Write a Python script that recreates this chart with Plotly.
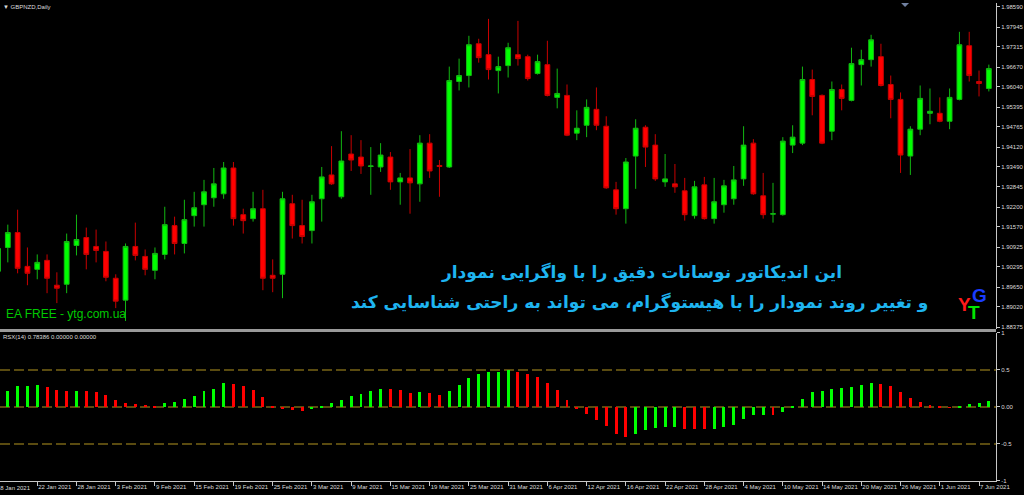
import plotly.graph_objects as go
import pandas as pd

# ---------------- data ----------------
dates = pd.bdate_range("2021-01-18", "2021-06-08")
idx = list(range(len(dates)))

open_ = [1.90153, 1.90914, 1.91390, 1.90311, 1.90216, 1.90502, 1.89709, 1.89740, 1.90977, 1.91231,
         1.90946, 1.90787, 1.89931, 1.89233, 1.90946, 1.90628, 1.90184, 1.90692, 1.91612, 1.91041,
         1.91929, 1.92278, 1.92500, 1.92627, 1.93451, 1.91961, 1.91834, 1.92151, 1.90026, 1.90057,
         1.92310, 1.91612, 1.91453, 1.92468, 1.93229, 1.92532, 1.93896, 1.93800, 1.93499, 1.93483,
         1.93800, 1.93007, 1.93134, 1.92944, 1.94244, 1.93531, 1.93483, 1.96211, 1.96401, 1.97416,
         1.97068, 1.96560, 1.96719, 1.97068, 1.97004, 1.96465, 1.96750, 1.95704, 1.95767, 1.94562,
         1.94815, 1.95323, 1.94784, 1.92754, 1.92151, 1.93832, 1.94752, 1.94181, 1.93007, 1.92944,
         1.92722, 1.91929, 1.92912, 1.91834, 1.92278, 1.92468, 1.93103, 1.94244, 1.92563, 1.91977,
         1.91961, 1.94181, 1.94244, 1.96275, 1.95767, 1.94625, 1.95957, 1.95608, 1.96750, 1.96909,
         1.97004, 1.96116, 1.95640, 1.93832, 1.94689, 1.95196, 1.95196, 1.94942, 1.95640, 1.97353,
         1.96211, 1.95989]
high = [1.91104, 1.91643, 1.92119, 1.90914, 1.90692, 1.90692, 1.90121, 1.91358, 1.91961, 1.91548,
        1.91485, 1.91104, 1.90057, 1.91041, 1.91707, 1.90850, 1.90914, 1.92214, 1.91897, 1.92436,
        1.92690, 1.93071, 1.93451, 1.93642, 1.93642, 1.92151, 1.92690, 1.92754, 1.90533, 1.92690,
        1.92595, 1.92436, 1.92595, 1.93483, 1.94149, 1.94625, 1.94498, 1.94340, 1.94118, 1.94244,
        1.93959, 1.93293, 1.94054, 1.94498, 1.94530, 1.93705, 1.96687, 1.96941, 1.97670, 1.97575,
        1.98210, 1.97004, 1.97448, 1.98146, 1.97068, 1.97068, 1.97512, 1.96623, 1.96116, 1.95291,
        1.95640, 1.96021, 1.95101, 1.93007, 1.93769, 1.95006, 1.94815, 1.94530, 1.93896, 1.93578,
        1.93134, 1.93039, 1.93166, 1.93134, 1.93071, 1.93515, 1.94784, 1.94371, 1.93293, 1.92976,
        1.94435, 1.94815, 1.96687, 1.96592, 1.95799, 1.96211, 1.96116, 1.97290, 1.97226, 1.97702,
        1.97416, 1.96401, 1.95862, 1.94784, 1.96084, 1.95989, 1.95704, 1.95989, 1.97797, 1.97797,
        1.96560, 1.96750]
low = [1.89962, 1.90438, 1.90089, 1.89709, 1.89899, 1.89455, 1.89138, 1.89455, 1.90660, 1.90216,
       1.90438, 1.89835, 1.88979, 1.88567, 1.90502, 1.90026, 1.89899, 1.90533, 1.90692, 1.90724,
       1.91580, 1.91580, 1.92214, 1.92468, 1.91612, 1.91358, 1.91739, 1.89550, 1.89486, 1.89296,
       1.91199, 1.91041, 1.91041, 1.91739, 1.92912, 1.92468, 1.93356, 1.93261, 1.92595, 1.93325,
       1.92754, 1.92278, 1.91992, 1.92373, 1.93134, 1.92532, 1.93451, 1.95926, 1.96021, 1.96814,
       1.96275, 1.95830, 1.96338, 1.96719, 1.96243, 1.96433, 1.95735, 1.95355, 1.94467, 1.94340,
       1.94435, 1.94657, 1.92785, 1.91961, 1.91675, 1.92785, 1.93483, 1.93039, 1.92849, 1.92659,
       1.91770, 1.91834, 1.91802, 1.91675, 1.92024, 1.92278, 1.92881, 1.92595, 1.91834, 1.91707,
       1.91929, 1.93927, 1.94181, 1.95133, 1.94213, 1.94340, 1.95291, 1.95577, 1.96084, 1.96687,
       1.96053, 1.95037, 1.93293, 1.93229, 1.94498, 1.94847, 1.94911, 1.94689, 1.95608, 1.96211,
       1.95735, 1.95894]
close = [1.90882, 1.91390, 1.90248, 1.90089, 1.90438, 1.89931, 1.89613, 1.91104, 1.91168, 1.90692,
         1.90819, 1.89962, 1.89201, 1.90946, 1.90660, 1.90216, 1.90724, 1.91643, 1.91041, 1.91802,
         1.92183, 1.92690, 1.92944, 1.93451, 1.91834, 1.91770, 1.92151, 1.89931, 1.89931, 1.92468,
         1.91612, 1.91263, 1.92373, 1.93166, 1.92944, 1.93674, 1.93705, 1.93515, 1.93515, 1.93864,
         1.93007, 1.93134, 1.92976, 1.94244, 1.93356, 1.93499, 1.96243, 1.96401, 1.97385, 1.96972,
         1.96592, 1.96687, 1.97290, 1.96941, 1.96306, 1.96846, 1.95767, 1.95830, 1.94498, 1.94720,
         1.95386, 1.94815, 1.92817, 1.92151, 1.93642, 1.94720, 1.94118, 1.93103, 1.93103, 1.92849,
         1.91961, 1.92849, 1.91834, 1.92373, 1.92881, 1.93071, 1.94181, 1.92627, 1.91961, 1.91992,
         1.94308, 1.94435, 1.96275, 1.95735, 1.94244, 1.95957, 1.95672, 1.96782, 1.96909, 1.97543,
         1.96084, 1.95640, 1.93864, 1.94689, 1.95672, 1.95260, 1.94942, 1.95704, 1.97385, 1.96401,
         1.96148, 1.96623]

rsx = [0.17, 0.22, 0.28, 0.29, 0.295, 0.27, 0.225, 0.21, 0.22, 0.21,
       0.20, 0.16, 0.10, 0.06, 0.045, 0.03, 0.02, 0.05, 0.07, 0.11,
       0.15, 0.21, 0.25, 0.32, 0.31, 0.28, 0.23, 0.13, 0.02, -0.02,
       -0.04, -0.05, -0.03, 0.02, 0.05, 0.10, 0.15, 0.18, 0.21, 0.25,
       0.245, 0.23, 0.195, 0.205, 0.19, 0.16, 0.22, 0.30, 0.39, 0.45,
       0.47, 0.48, 0.495, 0.48, 0.44, 0.40, 0.32, 0.23, 0.10, -0.026,
       -0.10, -0.17, -0.26, -0.36, -0.40, -0.36, -0.31, -0.285, -0.276, -0.27,
       -0.294, -0.296, -0.303, -0.294, -0.267, -0.237, -0.167, -0.114, -0.105, -0.114,
       -0.07, 0.018, 0.11, 0.20, 0.22, 0.25, 0.255, 0.276, 0.30, 0.325,
       0.316, 0.285, 0.206, 0.12, 0.07, 0.026, 0.008, -0.01, 0.018, 0.04,
       0.055, 0.08]

price_ticks = [1.98590, 1.97945, 1.97315, 1.96670, 1.96040, 1.95395, 1.94765, 1.94120, 1.93490,
               1.92845, 1.92200, 1.91570, 1.90925, 1.90295, 1.89650, 1.89020, 1.88375]
rsx_ticks = [1, 0.5, 0, -0.5, -1]
rsx_tick_text = ["1", "0.5", "0.00", "-0.5", "-1"]
date_tick_idx = list(range(0, len(dates), 4))
date_tick_text = ["18 Jan 2021", "22 Jan 2021", "28 Jan 2021", "3 Feb 2021", "9 Feb 2021",
                  "15 Feb 2021", "19 Feb 2021", "25 Feb 2021", "3 Mar 2021", "9 Mar 2021",
                  "15 Mar 2021", "19 Mar 2021", "25 Mar 2021", "31 Mar 2021", "6 Apr 2021",
                  "12 Apr 2021", "16 Apr 2021", "22 Apr 2021", "28 Apr 2021", "4 May 2021",
                  "10 May 2021", "14 May 2021", "20 May 2021", "26 May 2021", "1 Jun 2021",
                  "7 Jun 2021"]
levels = [0.5, 0.0, -0.5]

# ---------------- styling ----------------
W, H = 1024, 495
ML, MR, MT, MB = 0, 27, 0, 14
PW, PH = W - ML - MR, H - MT - MB
XR = [0.204, 101.73]
TXT = "#dcdcdc"
FONT = "Liberation Sans, Arial, sans-serif"

def py(px):  # pixel row -> paper y
    return 1 - (px - MT) / PH

def pxx(px):  # pixel col -> paper x
    return (px - ML) / PW

bar_colors = ["#00ff00"] + ["#00ff00" if rsx[i] > rsx[i - 1] else "#ff0000" for i in range(1, len(rsx))]

fig = go.Figure()
fig.add_trace(go.Candlestick(
    x=idx, open=open_, high=high, low=low, close=close,
    increasing=dict(line=dict(color="#12b812", width=1), fillcolor="#00ff00"),
    decreasing=dict(line=dict(color="#c80000", width=1), fillcolor="#ff0000"),
    whiskerwidth=0, xaxis="x", yaxis="y", hoverinfo="skip", showlegend=False))
fig.add_trace(go.Bar(
    x=idx, y=rsx, width=0.3, marker=dict(color=bar_colors, line=dict(width=0)),
    xaxis="x2", yaxis="y2", hoverinfo="skip", showlegend=False))

shapes = []
for lv in levels:
    shapes.append(dict(type="line", xref="paper", x0=0, x1=1, yref="y2", y0=lv, y1=lv,
                       line=dict(color="#786416", width=1.5, dash="10px,4px"), layer="below"))
# panel separator
shapes.append(dict(type="rect", xref="paper", x0=0, x1=1, yref="paper", y0=py(331), y1=py(328),
                   fillcolor="#9a9a9a", line=dict(width=0), layer="above"))
# small shift marker at top
shapes.append(dict(type="path", xref="paper", yref="paper",
                   path=f"M {pxx(902)},{py(0)} L {pxx(910)},{py(0)} L {pxx(906)},{py(4)} Z",
                   fillcolor="#7080a0", line=dict(width=0)))

annotations = [
    dict(text="▼ GBPNZD,Daily", xref="paper", yref="paper", x=pxx(1), y=py(4),
         xanchor="left", yanchor="middle", showarrow=False, font=dict(family=FONT, size=6, color=TXT)),
    dict(text="RSX(14) 0.78386 0.00000 0.00000", xref="paper", yref="paper", x=pxx(1), y=py(336),
         xanchor="left", yanchor="middle", showarrow=False, font=dict(family=FONT, size=6, color=TXT)),
    dict(text="EA FREE - ytg.com.ua", xref="paper", yref="paper", x=pxx(4), y=py(313),
         xanchor="left", yanchor="middle", showarrow=False, font=dict(family=FONT, size=12, color="#00c800")),
    dict(text="<b>این اندیکاتور نوسانات دقیق را با واگرایی نمودار</b>", xref="paper", yref="paper",
         x=pxx(642), y=py(271), xanchor="center", yanchor="middle", showarrow=False,
         font=dict(family="DejaVu Sans, sans-serif", size=17, color="#1eb4f0")),
    dict(text="<b>و تغییر روند نمودار را با هیستوگرام، می تواند به راحتی شناسایی کند</b>", xref="paper", yref="paper",
         x=pxx(640), y=py(301), xanchor="center", yanchor="middle", showarrow=False,
         font=dict(family="DejaVu Sans, sans-serif", size=17, color="#1eb4f0")),
    dict(text="<b>Y</b>", xref="paper", yref="paper", x=pxx(965), y=py(303), xanchor="center",
         yanchor="middle", showarrow=False, font=dict(family=FONT, size=19, color="#ff1a1a")),
    dict(text="<b>G</b>", xref="paper", yref="paper", x=pxx(980), y=py(294), xanchor="center",
         yanchor="middle", showarrow=False, font=dict(family=FONT, size=19, color="#1a3cff")),
    dict(text="<b>T</b>", xref="paper", yref="paper", x=pxx(975), y=py(311), xanchor="center",
         yanchor="middle", showarrow=False, font=dict(family=FONT, size=19, color="#00e600")),
    dict(text=date_tick_text[0], xref="paper", yref="paper", x=pxx(-5), y=-7 / PH,
         xanchor="left", yanchor="middle", showarrow=False, font=dict(family=FONT, size=6, color=TXT)),
]

fig.update_layout(
    width=W, height=H, margin=dict(l=ML, r=MR, t=MT, b=MB),
    paper_bgcolor="black", plot_bgcolor="black", showlegend=False, hovermode=False,
    bargap=0,
    xaxis=dict(domain=[0, 1], anchor="y", range=XR, showticklabels=False, showgrid=False,
               zeroline=False, rangeslider=dict(visible=False), ticks=""),
    xaxis2=dict(domain=[0, 1], anchor="y2", range=XR, matches="x", showgrid=False, zeroline=False,
                tickmode="array", tickvals=date_tick_idx, ticktext=date_tick_text, tickangle=0,
                ticks="outside", ticklen=4, tickcolor="#c8c8c8", ticklabelposition="outside right",
                showline=True, linecolor="#c8c8c8", linewidth=1,
                tickfont=dict(family=FONT, size=6, color=TXT)),
    yaxis=dict(domain=[py(328), 1], anchor="x", side="right", range=[1.88313, 1.98717],
               tickmode="array", tickvals=price_ticks, ticktext=[f"{v:.5f}" for v in price_ticks],
               showgrid=False, zeroline=False, showline=True, linecolor="#c8c8c8", linewidth=1,
               ticks="outside", ticklen=3, tickcolor="#c8c8c8",
               tickfont=dict(family=FONT, size=6, color=TXT)),
    yaxis2=dict(domain=[0, py(332)], anchor="x2", side="right", range=[-1, 1],
                tickmode="array", tickvals=rsx_ticks, ticktext=rsx_tick_text,
                showgrid=False, zeroline=False, showline=True, linecolor="#c8c8c8", linewidth=1,
                ticks="outside", ticklen=3, tickcolor="#c8c8c8",
                tickfont=dict(family=FONT, size=6, color=TXT)),
    shapes=shapes, annotations=annotations,
)

fig.write_html("out.html", config={"displayModeBar": False},
               post_script="document.body.style.margin='0';document.documentElement.style.background='black';document.body.style.background='black';")
